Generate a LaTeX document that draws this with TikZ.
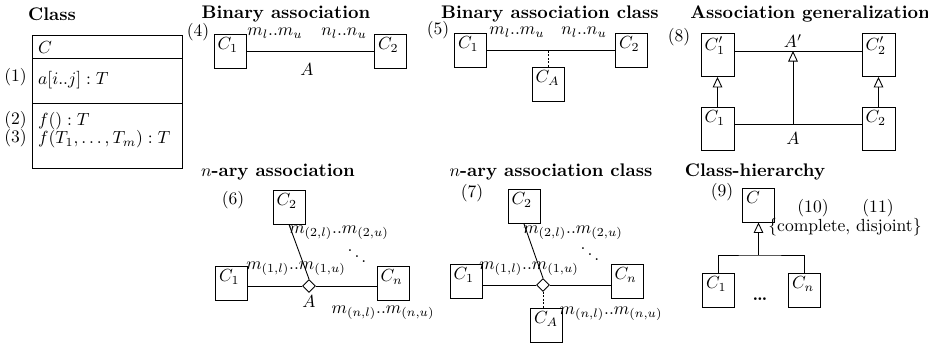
\documentclass[tikz,border=0pt]{standalone}
\usetikzlibrary{arrows.meta,shapes.geometric}
\begin{document}
\begin{tikzpicture}[x=0.57pt,y=-0.57pt, line width=0.5pt,
  ttl/.style={font=\fontsize{10.4}{12}\selectfont\bfseries, inner sep=1pt},
  txt/.style={inner sep=1pt},
  cbox/.style={draw, minimum width=18.2pt, minimum height=19.4pt, inner sep=0pt},
  tbox/.style={draw, minimum width=18.8pt, minimum height=24.5pt, inner sep=0pt},
  nm/.style={label={[anchor=north west, inner sep=2pt]north west:{$#1$}}},
  dia/.style={draw, diamond, minimum width=7.4pt, minimum height=7.4pt, inner sep=0pt, fill=white},
  gen/.style={-{Triangle[open,length=6pt,width=5.5pt]}},
  dot/.style={dash pattern=on 1pt off 1pt}]
\useasboundingbox (0,0) rectangle (928,348);

% ---------- Class ----------
\node[ttl] (t1) at (52,14) {Class};
\node[draw, minimum width=85.5pt, minimum height=75.8pt, inner sep=0pt, anchor=north west] (cb) at (32,35) {};
\coordinate (d1) at (0,58);
\coordinate (d2) at (0,103);
\draw (cb.west |- d1) -- (cb.east |- d1);
\draw (cb.west |- d2) -- (cb.east |- d2);
\node[txt, anchor=west] (cname) at (36,48) {$C$};
\node[txt, anchor=east] (n1) at (29,77) {(1)};
\node[txt, anchor=west] (attr) at (36,80) {$a[i..j] : T$};
\node[txt, anchor=east] (n2) at (29,120) {(2)};
\node[txt, anchor=west] (op1) at (36,121) {$f() : T$};
\node[txt, anchor=east] (n3) at (29,138) {(3)};
\node[txt, anchor=west] (op2) at (36,139) {$f(T_1, \ldots, T_m) : T$};

% ---------- Binary association ----------
\node[ttl] (t2) at (286,14) {Binary association};
\node[txt] (n4) at (198,32) {(4)};
\node[cbox, nm=C_1] (b1) at (230,51) {};
\node[cbox, nm=C_2] (b2) at (390.5,51) {};
\draw (b1) -- (b2);
\node[txt] (bm) at (275,33) {$m_l..m_u$};
\node[txt] (bn) at (344,33) {$n_l..n_u$};
\node[txt] (bA) at (307,70) {$A$};

% ---------- Binary association class ----------
\node[ttl] (t3) at (550,14) {Binary association class};
\node[txt] (n5) at (438,30) {(5)};
\node[cbox, nm=C_1] (c1) at (470.5,50) {};
\node[cbox, nm=C_2] (c2) at (631.5,50) {};
\node[cbox, nm=C_A] (cA) at (548,84) {};
\draw (c1) -- (c2);
\draw[dot] (cA.north) -- (cA.north |- c1.east);
\node[txt] (cm) at (517,32) {$m_l..m_u$};
\node[txt] (cn) at (584,32) {$n_l..n_u$};

% ---------- Association generalization ----------
\node[ttl] (t4) at (810,14) {Association generalization};
\node[txt] (n8) at (679,37) {(8)};
\node[tbox, nm=C_1'] (g1p) at (717.5,55) {};
\node[tbox, nm=C_2'] (g2p) at (878.5,55) {};
\node[tbox, nm=C_1] (g1) at (717.5,128.5) {};
\node[tbox, nm=C_2] (g2) at (878.5,128.5) {};
\draw ([yshift=2.3pt]g1p.east) -- ([yshift=2.3pt]g2p.west);
\draw ([yshift=2.6pt]g1.east) -- ([yshift=2.6pt]g2.west);
\coordinate (ga) at (793,124);
\coordinate (gb) at (793,51);
\draw[gen] (ga) -- (gb);
\draw[gen] (g1.north) -- (g1p.south);
\draw[gen] (g2.north) -- (g2p.south);
\node[txt] (gAp) at (793,41) {$A'$};
\node[txt] (gA) at (793,139) {$A$};

% ---------- n-ary association ----------
\node[ttl] (t6) at (278,172) {$n$-ary association};
\node[txt] (n6) at (233,200) {(6)};
\node[cbox, nm=C_2] (r2) at (289,207) {};
\node[cbox, nm=C_1] (r1) at (231.5,283) {};
\node[cbox, nm=C_n] (rn) at (393,283) {};
\node[dia] (rd) at (309,286) {};
\draw (r1.east |- rd.west) -- (rd.west);
\draw (rd.east) -- (rd.east -| rn.west);
\draw (r2.south) -- (rd.north);
\node[txt] (rm2) at (339,233) {$m_{(2,l)}..m_{(2,u)}$};
\node[txt] (rdd) at (357,251) {$\ddots$};
\node[txt] (rm1) at (296,269) {$m_{(1,l)}..m_{(1,u)}$};
\node[txt] (rA) at (309,302) {$A$};
\node[txt] (rmn) at (383,313) {$m_{(n,l)}..m_{(n,u)}$};

% ---------- n-ary association class ----------
\node[ttl] (t7) at (551,172) {$n$-ary association class};
\node[txt] (n7) at (472,193) {(7)};
\node[cbox, nm=C_2] (s2) at (524,206.5) {};
\node[cbox, nm=C_1] (s1) at (466,281.5) {};
\node[cbox, nm=C_n] (sn) at (627,281.5) {};
\node[cbox, nm=C_A] (sA) at (546.5,325.5) {};
\node[dia] (sd) at (543,285) {};
\draw (s1.east |- sd.west) -- (sd.west);
\draw (sd.east) -- (sd.east -| sn.west);
\draw (s2.south) -- (sd.north);
\draw[dot] (sd.south) -- (sd.south |- sA.north);
\node[txt] (sm2) at (573,233) {$m_{(2,l)}..m_{(2,u)}$};
\node[txt] (sdd) at (590,249) {$\ddots$};
\node[txt] (sm1) at (529,269) {$m_{(1,l)}..m_{(1,u)}$};
\node[txt] (smn) at (611,314) {$m_{(n,l)}..m_{(n,u)}$};

% ---------- Class-hierarchy ----------
\node[ttl] (t9) at (755,172) {Class-hierarchy};
\node[txt] (n9) at (722,192) {(9)};
\node[cbox, nm=C] (hc) at (758.5,205) {};
\node[cbox, nm=C_1] (h1) at (718.5,290) {};
\node[cbox, nm=C_n] (hn) at (804.5,290) {};
\coordinate (hj) at (758.5,255);
\draw (h1.north) |- (hj) -| (hn.north);
\draw[gen] (hj) -- (hc.south);
\node[txt, anchor=base] (hdots) at (760,300) {\textbf{\dots}};
\node[txt] (hcd) at (845,227) {\{complete, disjoint\}};
\node[txt] (n10) at (813,208) {(10)};
\node[txt] (n11) at (878,208) {(11)};
\end{tikzpicture}
\end{document}
